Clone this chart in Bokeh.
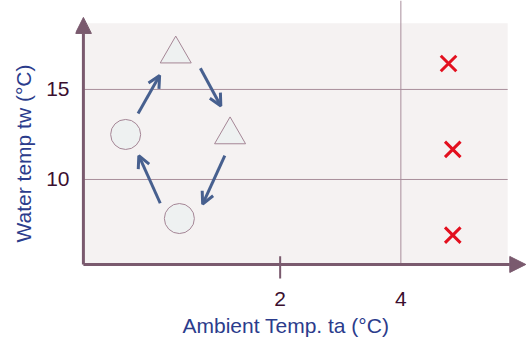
from bokeh.plotting import figure
from bokeh.models import (Range1d, FixedTicker, Arrow, NormalHead, OpenHead,
                          ColumnDataSource, Title)
from bokeh.embed import file_html
from bokeh.resources import INLINE

# ---- data ----
x_ticks = [2, 4]
y_ticks = [10, 15]
x_tick_labels = {2: "2", 4: "4"}
y_tick_labels = {10: "10", 15: "15"}

circle_x = [-0.56, 0.33]
circle_y = [12.5, 7.83]
triangle_x = [0.27, 1.17]
triangle_y = [16.97, 12.48]
cross_x = [4.79, 4.86, 4.86]
cross_y = [16.44, 11.67, 6.91]

arrow_x_start = [-0.354, 0.678, 1.083, 0.013]
arrow_y_start = [13.67, 16.18, 11.32, 8.68]
arrow_x_end = [0.003, 1.017, 0.716, -0.342]
arrow_y_end = [15.78, 14.08, 8.63, 11.32]

x_label = "Ambient Temp. ta (°C)"
y_label = "Water temp tw (°C)"

# plot-area extents (data units)
area_x0, area_x1 = -1.26, 5.77
area_y0, area_y1 = 5.28, 18.67
x_axis_tip = 6.07
y_axis_tip = 19.0

FONT = "Liberation Sans"
AXIS_COL = "#7a5a6e"
GRID_COL = "#a88e9b"
TICK_COL = "#3b0f2f"
LABEL_COL = "#2b3c8c"
ARROW_COL = "#47608f"

x_range = Range1d(-1.391, 6.148)
y_range = Range1d(4.167, 19.94)

p = figure(width=530, height=343, x_range=x_range, y_range=y_range,
           output_backend="svg", toolbar_location=None,
           min_border_left=72, min_border_right=0, min_border_top=0,
           min_border_bottom=59)
p.outline_line_color = None
p.xgrid.grid_line_color = None
p.ygrid.grid_line_color = None
p.background_fill_color = "white"
p.border_fill_color = "white"

# axes (tick labels only)
for ax, ticks, labels in ((p.xaxis[0], x_ticks, x_tick_labels),
                          (p.yaxis[0], y_ticks, y_tick_labels)):
    ax.ticker = FixedTicker(ticks=ticks)
    ax.major_label_overrides = labels
    ax.axis_line_color = None
    ax.major_tick_line_color = None
    ax.minor_tick_line_color = None
    ax.major_label_text_font = FONT
    ax.major_label_text_font_size = "21px"
    ax.major_label_text_color = TICK_COL
p.xaxis[0].major_label_standoff = 1
p.yaxis[0].major_label_standoff = 0

# axis titles
p.add_layout(Title(text=x_label, align="left", offset=107, standoff=6,
                   text_font=FONT, text_font_size="21px",
                   text_font_style="normal", text_color=LABEL_COL), "below")
p.add_layout(Title(text=y_label, align="left", offset=42, standoff=18,
                   text_font=FONT, text_font_size="21px",
                   text_font_style="normal", text_color=LABEL_COL), "left")

# plot area background
p.quad(left=[area_x0], right=[area_x1], bottom=[area_y0], top=[area_y1],
       fill_color="#f5f2f2", line_color=None)

# grid lines
p.segment(x0=[area_x0] * len(y_ticks), x1=[area_x1] * len(y_ticks),
          y0=y_ticks, y1=y_ticks, line_color=GRID_COL, line_width=1)
p.segment(x0=[x_ticks[1]], x1=[x_ticks[1]], y0=[area_y0], y1=[y_range.end],
          line_color=GRID_COL, line_width=1)

# tick mark at 2
p.segment(x0=[x_ticks[0]], x1=[x_ticks[0]], y0=[area_y0 - 0.78],
          y1=[area_y0 + 0.45], line_color=AXIS_COL, line_width=2)

# axis arrows
p.add_layout(Arrow(x_start=area_x0, y_start=area_y0, x_end=area_x0,
                   y_end=y_axis_tip, line_color=AXIS_COL, line_width=3,
                   end=NormalHead(size=16, fill_color=AXIS_COL,
                                  line_color=AXIS_COL, line_width=1)))
p.add_layout(Arrow(x_start=area_x0, y_start=area_y0, x_end=x_axis_tip,
                   y_end=area_y0, line_color=AXIS_COL, line_width=3,
                   end=NormalHead(size=16, fill_color=AXIS_COL,
                                  line_color=AXIS_COL, line_width=1)))

# cycle arrows
asrc = ColumnDataSource(dict(xs=arrow_x_start, ys=arrow_y_start,
                             xe=arrow_x_end, ye=arrow_y_end))
p.add_layout(Arrow(source=asrc, x_start="xs", y_start="ys", x_end="xe",
                   y_end="ye", line_color=ARROW_COL, line_width=3,
                   end=OpenHead(size=12, line_color=ARROW_COL, line_width=3)))

# markers
p.scatter(circle_x, circle_y, marker="circle", size=30,
          fill_color="#eef1f1", line_color="#a58696", line_width=1)
p.scatter(triangle_x, triangle_y, marker="triangle", size=31,
          fill_color="#eef1f1", line_color="#a58696", line_width=1)
p.scatter(cross_x, cross_y, marker="x", size=22,
          line_color="#e3101f", line_width=3)

open("out.html", "w").write(file_html(p, INLINE))
